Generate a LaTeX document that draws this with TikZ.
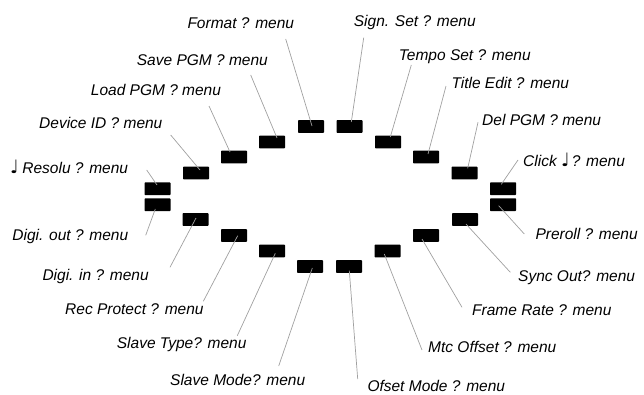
\documentclass[tikz,border=0pt]{standalone}
\usepackage{fontspec}
\setmainfont{Liberation Sans}
\newfontfamily\notefont{DejaVu Sans}
\definecolor{leadgray}{HTML}{A0A0A0}
\newcommand{\qnote}{{\upshape\notefont\fontsize{18.5}{18}\selectfont ♩}}
\begin{document}
\begin{tikzpicture}[x=1pt,y=-1pt,
  blk/.style={fill=black,draw=none,minimum width=26pt,minimum height=12.6pt,inner sep=0pt,rounded corners=0.6pt},
  lbl/.style={anchor=base west,inner sep=0pt,font=\fontsize{15.5}{18}\selectfont\itshape},
  lead/.style={draw=leadgray,line width=0.7pt}]
\useasboundingbox (0,0) rectangle (644,394);
% boxes
\node[blk] (b1) at (157.5,188.7) {};
\node[blk] (b2) at (196,173) {};
\node[blk] (b3) at (234,157) {};
\node[blk] (b4) at (272,142) {};
\node[blk] (b5) at (311,126.5) {};
\node[blk] (b6) at (349.5,126.5) {};
\node[blk] (b7) at (388,142) {};
\node[blk] (b8) at (426,157) {};
\node[blk] (b9) at (464.5,173) {};
\node[blk] (b10) at (503,188.7) {};
\node[blk] (b11) at (157.5,204.7) {};
\node[blk] (b12) at (195.5,219.5) {};
\node[blk] (b13) at (234,235.5) {};
\node[blk] (b14) at (272,251) {};
\node[blk] (b15) at (310,266.5) {};
\node[blk] (b16) at (349,266.5) {};
\node[blk] (b17) at (387.5,251) {};
\node[blk] (b18) at (426,235.5) {};
\node[blk] (b19) at (465,219.5) {};
\node[blk] (b20) at (503,204.7) {};
% labels
\node[lbl] (l1) at (10,173.3) {\qnote\hspace{3.5pt}Resolu ? menu};
\node[lbl] (l2) at (39,128.3) {Device ID ? menu};
\node[lbl] (l3) at (90.7,95) {Load PGM ? menu};
\node[lbl] (l4) at (136.7,65) {Save PGM ? menu};
\node[lbl] (l5) at (187.3,28.3) {Format ? menu};
\node[lbl] (l6) at (353.7,26.7) {Sign. Set ? menu};
\node[lbl] (l7) at (398.7,60) {Tempo Set ? menu};
\node[lbl] (l8) at (451.3,88.3) {Title Edit ? menu};
\node[lbl] (l9) at (482,125) {Del PGM ? menu};
\node[lbl] (l10) at (523,166.7) {Click \qnote\hspace{2pt}? menu};
\node[lbl] (l11) at (12.3,240.7) {Digi. out ? menu};
\node[lbl] (l12) at (42.3,280) {Digi. in ? menu};
\node[lbl] (l13) at (65,314.7) {Rec Protect ? menu};
\node[lbl] (l14) at (116.7,348) {Slave Type? menu};
\node[lbl] (l15) at (170,385.7) {Slave Mode? menu};
\node[lbl] (l16) at (367.3,391.7) {Ofset Mode ? menu};
\node[lbl] (l17) at (428,352.3) {Mtc Offset ? menu};
\node[lbl] (l18) at (472,315.7) {Frame Rate ? menu};
\node[lbl] (l19) at (518,281.3) {Sync Out? menu};
\node[lbl] (l20) at (535.3,239) {Preroll ? menu};
% leader ends
\coordinate (e1) at (146.7,170);
\coordinate (e2) at (170.7,135);
\coordinate (e3) at (209,106);
\coordinate (e4) at (250.7,75);
\coordinate (e5) at (285.7,39);
\coordinate (e6) at (363.7,37.7);
\coordinate (e7) at (411.3,65);
\coordinate (e8) at (446,86);
\coordinate (e9) at (478,122.3);
\coordinate (e10) at (518,160);
\coordinate (e11) at (145.7,235.3);
\coordinate (e12) at (170,267.3);
\coordinate (e13) at (203.3,301.3);
\coordinate (e14) at (237.3,335.7);
\coordinate (e15) at (278.7,366);
\coordinate (e16) at (357.7,379);
\coordinate (e17) at (422,350);
\coordinate (e18) at (462,307.3);
\coordinate (e19) at (510.3,272.3);
\coordinate (e20) at (524.3,234);
% leaders
\draw[lead] ([shift={(-0.5,-3.7)}]b1.center) -- (e1);
\draw[lead] ([shift={(4,-3)}]b2.center) -- (e2);
\draw[lead] ([shift={(-4,-5)}]b3.center) -- (e3);
\draw[lead] ([shift={(5,-4)}]b4.center) -- (e4);
\draw[lead] ([shift={(1,-0.5)}]b5.center) -- (e5);
\draw[lead] ([shift={(1.8,-4.5)}]b6.center) -- (e6);
\draw[lead] ([shift={(2.3,-5)}]b7.center) -- (e7);
\draw[lead] ([shift={(2,-3)}]b8.center) -- (e8);
\draw[lead] ([shift={(3.2,-4.7)}]b9.center) -- (e9);
\draw[lead] ([shift={(-1.7,-4.4)}]b10.center) -- (e10);
\draw[lead] ([shift={(-2.2,4.3)}]b11.center) -- (e11);
\draw[lead] ([shift={(0.5,-1.5)}]b12.center) -- (e12);
\draw[lead] ([shift={(3.7,0.2)}]b13.center) -- (e13);
\draw[lead] ([shift={(3.3,2.3)}]b14.center) -- (e14);
\draw[lead] ([shift={(2.3,1.5)}]b15.center) -- (e15);
\draw[lead] ([shift={(0.3,4.2)}]b16.center) -- (e16);
\draw[lead] ([shift={(-3.2,3)}]b17.center) -- (e17);
\draw[lead] ([shift={(-4,3.5)}]b18.center) -- (e18);
\draw[lead] ([shift={(1,4.5)}]b19.center) -- (e19);
\draw[lead] ([shift={(-4.3,1)}]b20.center) -- (e20);
\end{tikzpicture}
\end{document}
